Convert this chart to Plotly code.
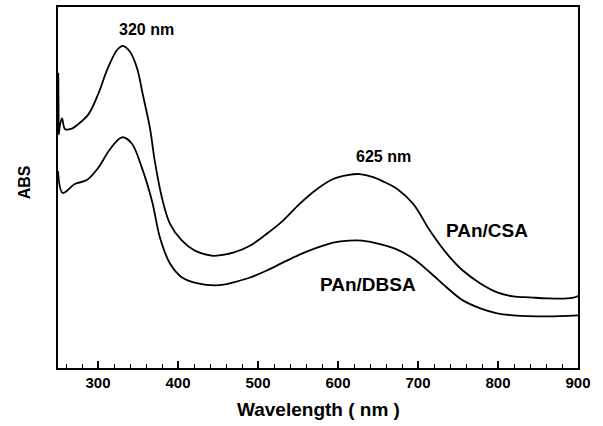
import plotly.graph_objects as go

# PAn/CSA spectrum (upper curve)
csa_wl = [250, 250.3, 250.7, 251, 252, 255, 259, 268, 275, 288, 300, 312, 324, 331, 340, 349,
          356, 365, 371, 380, 390, 405, 421, 442, 449, 469, 490, 511, 531, 552, 574, 594,
          612, 627, 644, 658, 674, 694, 715, 736, 756, 778, 799, 819, 840, 861, 886, 899, 900]
csa_abs = [2.50, 2.96, 2.60, 2.35, 2.42, 2.51, 2.40, 2.41, 2.45, 2.55, 2.75, 3.01, 3.20, 3.24, 3.18, 3.01,
           2.75, 2.41, 2.08, 1.71, 1.45, 1.28, 1.18, 1.13, 1.13, 1.16, 1.23, 1.35, 1.48, 1.65, 1.80, 1.90,
           1.94, 1.95, 1.92, 1.87, 1.80, 1.65, 1.38, 1.15, 0.98, 0.85, 0.76, 0.72, 0.71, 0.70, 0.70, 0.72, 0.73]

# PAn/DBSA spectrum (lower curve)
dbsa_wl = [250, 256, 271, 286, 300, 315, 330, 342, 355, 367.5, 377.5, 390, 405, 425, 446, 459,
           469, 490, 511, 531, 552, 574, 594, 614, 630, 650, 674, 694, 715, 736, 756, 778,
           799, 819, 861, 900]
dbsa_abs = [1.98, 1.76, 1.85, 1.89, 2.01, 2.20, 2.32, 2.26, 2.01, 1.68, 1.31, 1.05, 0.91, 0.85, 0.83, 0.84,
            0.86, 0.91, 0.98, 1.06, 1.14, 1.21, 1.26, 1.28, 1.28, 1.25, 1.19, 1.10, 0.96, 0.81, 0.68, 0.60,
            0.55, 0.53, 0.52, 0.53]

x_ticks = [300, 400, 500, 600, 700, 800, 900]

FONT = "Liberation Sans, Arial, sans-serif"

fig = go.Figure()
fig.add_trace(go.Scatter(x=csa_wl, y=csa_abs, mode="lines", line=dict(color="black", width=1.8),
                         line_shape="spline", showlegend=False))
fig.add_trace(go.Scatter(x=dbsa_wl, y=dbsa_abs, mode="lines", line=dict(color="black", width=1.8),
                         line_shape="spline", showlegend=False))

ann = [
    dict(x=361, y=3.40, text="<b>320 nm</b>", size=16),
    dict(x=657, y=2.13, text="<b>625 nm</b>", size=16),
    dict(x=786, y=1.38, text="<b>PAn/CSA</b>", size=19),
    dict(x=637, y=0.84, text="<b>PAn/DBSA</b>", size=19),
]
annotations = [dict(xref="x", yref="y", showarrow=False, xanchor="center", yanchor="middle",
                    font=dict(family=FONT, color="black", size=a["size"]),
                    x=a["x"], y=a["y"], text=a["text"]) for a in ann]
annotations.append(dict(xref="paper", yref="paper", x=0.5, y=-0.116, showarrow=False,
                        text="<b>Wavelength ( nm )</b>", xanchor="center", yanchor="middle",
                        font=dict(family=FONT, size=19, color="black")))
annotations.append(dict(xref="paper", yref="paper", x=-0.065, y=0.515, showarrow=False,
                        text="<b>ABS</b>", textangle=-90, xanchor="center", yanchor="middle",
                        font=dict(family=FONT, size=16, color="black")))

fig.update_layout(
    width=603, height=426,
    margin=dict(l=58, r=25, t=5, b=58),
    paper_bgcolor="white", plot_bgcolor="white",
    font=dict(family=FONT, color="black"),
    annotations=annotations,
    xaxis=dict(range=[250, 900], tickvals=x_ticks, ticktext=[f"<b>{v}</b>" for v in x_ticks],
               ticks="inside", ticklen=7, tickwidth=1.5, tickcolor="black",
               minor=dict(dtick=20, tick0=0, ticks="inside", ticklen=4, tickwidth=1.2, tickcolor="black"),
               showline=True, linecolor="black", linewidth=1.8, mirror=True,
               showgrid=False, zeroline=False, tickfont=dict(size=15, family=FONT, color="black")),
    yaxis=dict(range=[0, 3.63], showticklabels=False, ticks="",
               showline=True, linecolor="black", linewidth=1.8, mirror=True,
               showgrid=False, zeroline=False),
)

fig.write_html("out.html", config={"displayModeBar": False},
               post_script="document.body.style.margin='0px';document.body.style.overflow='hidden';")
